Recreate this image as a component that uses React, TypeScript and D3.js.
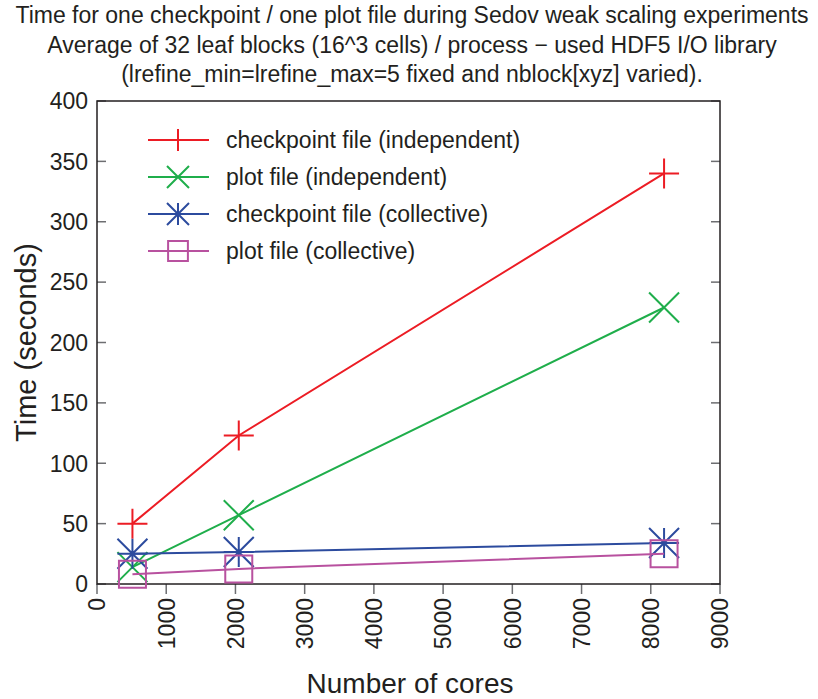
import { useEffect, useRef } from 'react';
import * as d3 from 'd3';

const cores = [512, 2048, 8192];
const ckptIndependent = [50, 123, 340];
const plotIndependent = [14, 57, 229];
const ckptCollective = [25, 26.5, 34];
const plotCollective = [8, 12.5, 25];
const seriesNames = [
  'checkpoint file (independent)',
  'plot file (independent)',
  'checkpoint file (collective)',
  'plot file (collective)',
];
const seriesColors = ['#ec1c24', '#1fae4b', '#2c4b9e', '#b8519f'];
const seriesMarkers = ['plus', 'cross', 'star', 'square'];
const xTicks = d3.range(0, 9001, 1000);
const yTicks = d3.range(0, 401, 50);
const titleLines = [
  'Time for one checkpoint / one plot file during Sedov weak scaling experiments',
  'Average of 32 leaf blocks (16^3 cells) / process \u2212 used HDF5 I/O library',
  '(lrefine_min=lrefine_max=5 fixed and nblock[xyz] varied).',
];

const FONT = '"Liberation Sans", Arial, Helvetica, sans-serif';

function drawMarker(g: d3.Selection<SVGGElement, unknown, null, undefined>, kind: string, cx: number, cy: number, color: string, s: number) {
  const p = d3.path();
  if (kind === 'plus' || kind === 'star') {
    p.moveTo(cx - s, cy); p.lineTo(cx + s, cy);
    p.moveTo(cx, cy - s); p.lineTo(cx, cy + s);
  }
  if (kind === 'cross' || kind === 'star') {
    p.moveTo(cx - s, cy - s); p.lineTo(cx + s, cy + s);
    p.moveTo(cx - s, cy + s); p.lineTo(cx + s, cy - s);
  }
  if (kind === 'square') {
    const h = s * 0.9;
    p.rect(cx - h, cy - h, 2 * h, 2 * h);
  }
  g.append('path').attr('d', p.toString()).attr('fill', 'none').attr('stroke', color).attr('stroke-width', 2);
}

export default function App() {
  const ref = useRef<SVGSVGElement>(null);

  useEffect(() => {
    if (!ref.current) return;
    const svg = d3.select(ref.current);
    svg.selectAll('*').remove();

    const left = 97, right = 720, top = 101, bottom = 584;
    const x = d3.scaleLinear().domain([0, 9000]).range([left, right]);
    const y = d3.scaleLinear().domain([0, 400]).range([bottom, top]);
    const allSeries = [ckptIndependent, plotIndependent, ckptCollective, plotCollective];

    svg.append('rect').attr('width', 818).attr('height', 699).attr('fill', '#fff');

    // title
    svg.append('g').selectAll('text').data(titleLines).join('text')
      .attr('x', 412).attr('y', (_, i) => 23 + i * 29.5)
      .attr('text-anchor', 'middle').attr('font-family', FONT).attr('font-size', 23).attr('fill', '#231f20')
      .text((d) => d);

    // ticks
    const tg = svg.append('g').attr('stroke', '#6d6e71').attr('stroke-width', 1.5);
    yTicks.forEach((t) => {
      tg.append('line').attr('x1', left).attr('x2', left + 9).attr('y1', y(t)).attr('y2', y(t));
      tg.append('line').attr('x1', right).attr('x2', right - 9).attr('y1', y(t)).attr('y2', y(t));
    });
    xTicks.forEach((t) => {
      tg.append('line').attr('x1', x(t)).attr('x2', x(t)).attr('y1', bottom).attr('y2', bottom + 10);
    });

    // frame
    svg.append('rect').attr('x', left).attr('y', top).attr('width', right - left).attr('height', bottom - top)
      .attr('fill', 'none').attr('stroke', '#231f20').attr('stroke-width', 1.5);

    svg.append('g').selectAll('text').data(yTicks).join('text')
      .attr('x', left - 9).attr('y', (d) => y(d)).attr('dy', '0.36em')
      .attr('text-anchor', 'end').attr('font-family', FONT).attr('font-size', 23).attr('fill', '#231f20')
      .text((d) => d);

    svg.append('g').selectAll('text').data(xTicks).join('text')
      .attr('transform', (d) => `translate(${x(d)},${bottom + 14}) rotate(-90)`)
      .attr('dy', '0.36em')
      .attr('text-anchor', 'end').attr('font-family', FONT).attr('font-size', 23).attr('fill', '#231f20')
      .text((d) => d);

    svg.append('text').attr('transform', `translate(${36},${y(200)}) rotate(-90)`)
      .attr('text-anchor', 'middle').attr('font-family', FONT).attr('font-size', 29).attr('fill', '#231f20')
      .text('Time (seconds)');
    svg.append('text').attr('x', 410).attr('y', 693)
      .attr('text-anchor', 'middle').attr('font-family', FONT).attr('font-size', 28).attr('fill', '#231f20')
      .text('Number of cores');

    // series
    allSeries.forEach((vals, si) => {
      const color = seriesColors[si];
      const line = d3.line<number>().x((_, i) => x(cores[i])).y((v) => y(v));
      const g = svg.append('g');
      g.append('path').attr('d', line(vals)).attr('fill', 'none').attr('stroke', color).attr('stroke-width', 2);
      vals.forEach((v, i) => drawMarker(g, seriesMarkers[si], x(cores[i]), y(v), color, 15));

      // legend
      const ly = 140 + si * 37;
      g.append('line').attr('x1', 148).attr('x2', 209).attr('y1', ly).attr('y2', ly).attr('stroke', color).attr('stroke-width', 2);
      drawMarker(g, seriesMarkers[si], 178, ly, color, 11);
      g.append('text').attr('x', 226).attr('y', ly).attr('dy', '0.36em')
        .attr('font-family', FONT).attr('font-size', 23).attr('fill', '#231f20')
        .text(seriesNames[si]);
    });
  }, []);

  return <svg ref={ref} width={818} height={699} style={{ display: 'block', position: 'absolute', left: 0, top: 0 }} />;
}
